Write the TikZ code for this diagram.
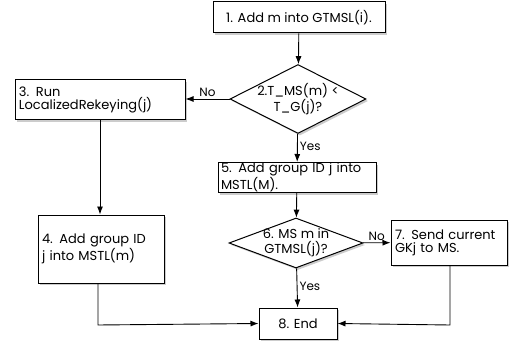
\documentclass[tikz,border=0pt]{standalone}
\usepackage{fontspec}
\setmainfont{Poppins}
\usetikzlibrary{shapes.geometric,shadows,arrows.meta}
\newcommand{\dtext}[1]{\makebox[0pt][c]{\smash{\raisebox{-3pt}{\begin{tabular}[c]{@{}c@{}}#1\end{tabular}}}}}
\begin{document}
\begin{tikzpicture}[x=1pt,y=-1pt,
  font=\fontsize{13}{13}\selectfont,
  box/.style={draw,fill=white,line width=1pt,drop shadow={opacity=0.4,shadow xshift=2pt,shadow yshift=-2pt},inner sep=0pt,align=left},
  dec/.style={draw,fill=white,diamond,line width=1pt,inner sep=0pt,drop shadow={opacity=0.4,shadow xshift=2pt,shadow yshift=-2pt}},
  arr/.style={-{Latex[length=8pt,width=6pt]},line width=0.9pt},
  lab/.style={font=\fontsize{12}{13}\selectfont,inner sep=2pt}]
\useasboundingbox (0,0) rectangle (512,345);
\renewcommand{\arraystretch}{0.85}
\node[box,minimum width=172,minimum height=31] (n1) at (299,17.5) {1. Add m into GTMSL(i).};
\node[dec,minimum width=136,minimum height=69] (n2) at (298,99) {\dtext{2.T\_MS(m) <\\T\_G(j)?}};
\node[box,minimum width=170,minimum height=40,text width=162] (n3) at (100,100) {3. Run\\LocalizedRekeying(j)};
\node[box,minimum width=126,minimum height=68,text width=118] (n4) at (101,249) {4. Add group ID\\j into MSTL(m)};
\node[box,minimum width=158,minimum height=30,text width=152] (n5) at (297,177.5) {5. Add group ID j into\\MSTL(M).};
\node[dec,minimum width=134,minimum height=50] (n6) at (296,243) {\dtext{6. MS m in\\GTMSL(j)?}};
\node[box,minimum width=116,minimum height=45,text width=108] (n7) at (449,242.5) {7. Send current\\GKj to MS.};
\node[box,minimum width=78,minimum height=31,align=center] (n8) at (298,323.5) {8. End};
\coordinate (c4) at (98,325);
\coordinate (c7) at (450,325);
\draw[arr] (n1) -- (n2);
\draw[arr] (n2.west) -- (n3.east |- n2.west) node[lab,midway,above] {No};
\draw[arr] (n2) -- (n5) node[lab,pos=0.45,right] {Yes};
\draw[arr] (n3.south) -- (n4.north -| n3.south);
\draw[arr] (n5) -- (n6);
\draw[arr] (n6) -- (n7) node[lab,midway,above] {No};
\draw[arr] (n6) -- (n8) node[lab,pos=0.45,right] {Yes};
\draw[arr] (n4.south -| c4) -- (c4) -- (n8.west);
\draw[arr] (n7.south -| c7) -- (c7) -- (n8.east);
\end{tikzpicture}
\end{document}
